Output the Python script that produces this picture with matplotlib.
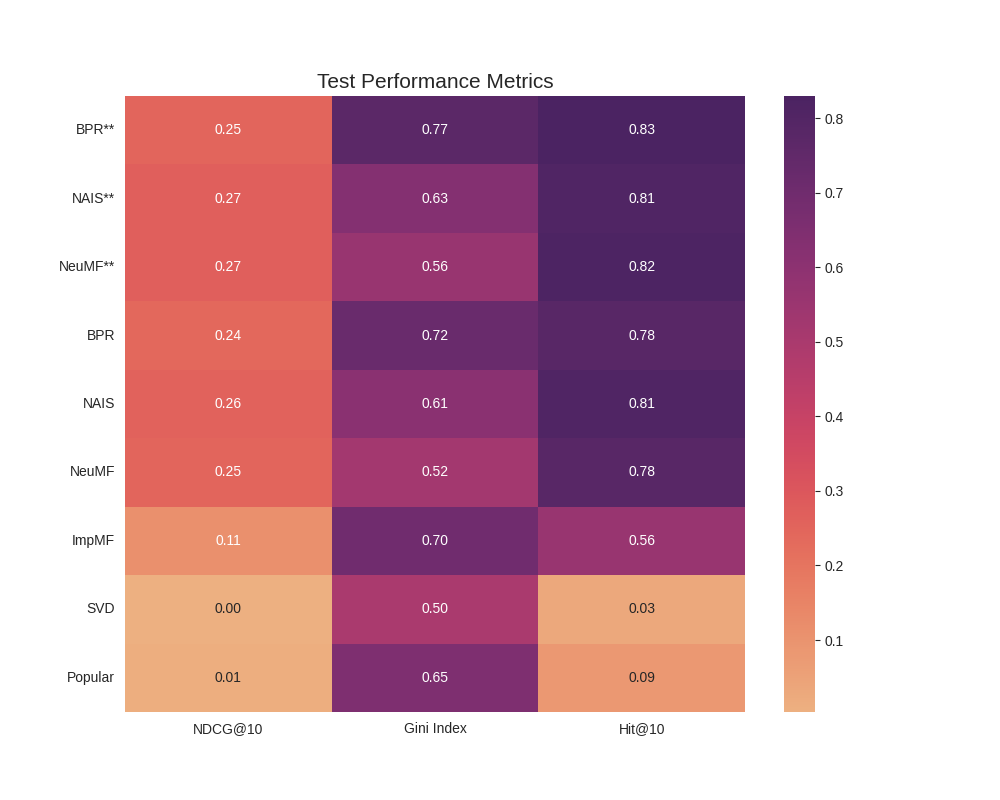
import matplotlib
matplotlib.use("Agg")
import matplotlib.pyplot as plt
import seaborn as sns
import numpy as np
import pandas as pd

models = ["BPR**", "NAIS**", "NeuMF**", "BPR", "NAIS", "NeuMF", "ImpMF", "SVD", "Popular"]
metrics = ["NDCG@10", "Gini Index", "Hit@10"]
ndcg = [0.25, 0.27, 0.27, 0.24, 0.26, 0.25, 0.11, 0.0035, 0.01]
gini = [0.77, 0.63, 0.56, 0.72, 0.61, 0.52, 0.70, 0.50, 0.65]
hit = [0.8295, 0.81, 0.82, 0.78, 0.81, 0.78, 0.56, 0.03, 0.087]

sns.set_style("white")
plt.rcParams['font.family'] = ['Arial', 'Liberation Sans', 'DejaVu Sans']

df = pd.DataFrame({"NDCG@10": ndcg, "Gini Index": gini, "Hit@10": hit}, index=models)

fig, ax = plt.subplots(figsize=(10, 8), dpi=100)
sns.heatmap(df, annot=True, fmt=".2f", cmap="flare", ax=ax)
ax.set_title("Test Performance Metrics", fontsize=15)
ax.tick_params(axis='y', rotation=0)
ax.tick_params(axis='x', rotation=0)
fig.savefig("out.png", dpi=100)
